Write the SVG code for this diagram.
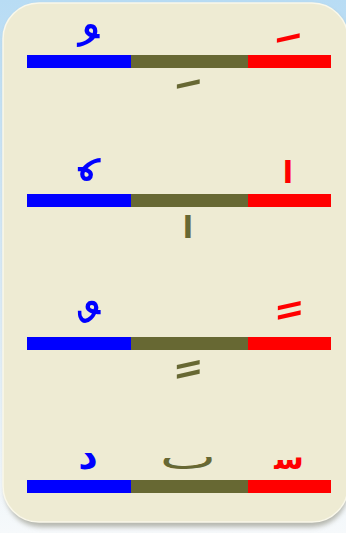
<svg xmlns="http://www.w3.org/2000/svg" width="346" height="533" viewBox="0 0 346 533">
<defs>
<linearGradient id="bg" x1="0" y1="0" x2="0" y2="1">
<stop offset="0" stop-color="#b8dcf4"/>
<stop offset="0.6" stop-color="#dcecf7"/>
<stop offset="1" stop-color="#f6f9fb"/>
</linearGradient>
<filter id="sh" x="-10%" y="-10%" width="120%" height="120%">
<feGaussianBlur stdDeviation="2.5"/>
</filter>
<style>
.b{fill:#0000ff}.o{fill:#676833}.r{fill:#ff0000}
text{font-family:"DejaVu Sans",sans-serif;text-anchor:middle}
.tb{fill:#0000ff}.to{fill:#676833}.tr{fill:#ff0000}
.m{font-size:80px}
.l{font-weight:bold}
</style>
</defs>
<rect width="346" height="533" fill="url(#bg)"/>
<rect x="5" y="6" width="343" height="521" rx="36" fill="#8a8a7a" opacity="0.6" filter="url(#sh)"/>
<rect x="3" y="3" width="345" height="519" rx="36" fill="#eeebd3" stroke="#faf8ea" stroke-width="1.5"/>
<g id="row1">
<rect class="b" x="27" y="55" width="104" height="13"/>
<rect class="o" x="131" y="55" width="117" height="13"/>
<rect class="r" x="248" y="55" width="83" height="13"/>
<text class="tb m" x="81" y="94">&#xA0;ُ</text>
<text class="tr m" x="281" y="90">&#xA0;َ</text>
<text class="to m" x="181" y="136">&#xA0;َ</text>
</g>
<g id="row2">
<rect class="b" x="27" y="194" width="104" height="13"/>
<rect class="o" x="131" y="194" width="117" height="13"/>
<rect class="r" x="248" y="194" width="83" height="13"/>
<text class="tb m" x="82" y="230">&#xA0;ٗ</text>
<text class="tr l" x="288" y="183" font-size="30">ا</text>
<text class="to l" x="188" y="238" font-size="30">ا</text>
</g>
<g id="row3">
<rect class="b" x="27" y="337" width="104" height="13"/>
<rect class="o" x="131" y="337" width="117" height="13"/>
<rect class="r" x="248" y="337" width="83" height="13"/>
<text class="tb m" x="82" y="370">&#xA0;ٌ</text>
<text class="tr m" x="282" y="367">&#xA0;ً</text>
<text class="to m" x="181" y="426">&#xA0;ً</text>
</g>
<g id="row4">
<rect class="b" x="27" y="480" width="104" height="13"/>
<rect class="o" x="131" y="480" width="117" height="13"/>
<rect class="r" x="248" y="480" width="83" height="13"/>
<text class="tb l" x="88" y="469" font-size="38">د</text>
<text class="to" transform="translate(188,469) scale(1.5,0.9)" x="0" y="0" font-size="40">ٮ</text>
<text class="tr l" x="289" y="469" font-size="30">ﺳ</text>
</g>
</svg>
